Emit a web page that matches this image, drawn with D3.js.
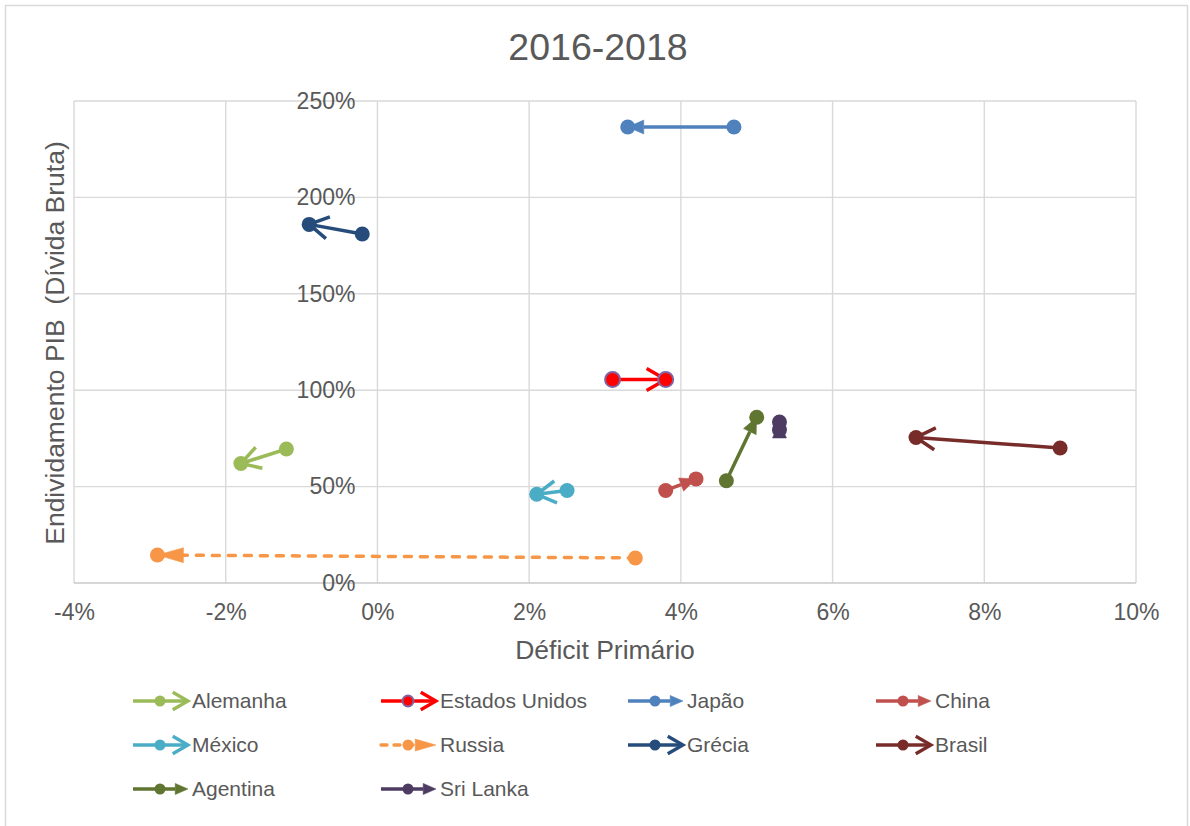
<!DOCTYPE html>
<html>
<head>
<meta charset="utf-8">
<script src="https://cdn.jsdelivr.net/npm/d3@7"></script>
<style>
  html, body { margin: 0; padding: 0; background: #ffffff; }
  svg { display: block; }
  text { font-family: "Liberation Sans", Arial, sans-serif; }
</style>
</head>
<body>
<svg id="chart" width="1190" height="826"></svg>
<script>
// Primary deficit (% of GDP) and gross debt (% of GDP), 2016 -> 2018
const countries = ["Alemanha", "Estados Unidos", "Japão", "China", "México", "Russia", "Grécia", "Brasil", "Agentina", "Sri Lanka"];
const deficit2016 = [-1.2, 3.1, 4.7, 3.8, 2.5, 3.4, -0.2, 9.0, 4.6, 5.3];
const debt2016    = [69.5, 105.5, 236.5, 48.0, 48.0, 13.0, 181.0, 70.0, 53.0, 79.5];
const deficit2018 = [-1.8, 3.8, 3.3, 4.2, 2.1, -2.9, -0.9, 7.1, 5.0, 5.3];
const debt2018    = [62.0, 105.5, 236.5, 54.0, 46.0, 14.5, 186.0, 75.5, 86.0, 83.5];

const xTicks = [-4, -2, 0, 2, 4, 6, 8, 10];
const yTicks = [0, 50, 100, 150, 200, 250];

// Series styling
const colors  = ["#9BBB59", "#FF0000", "#4F81BD", "#C0504D", "#4BACC6", "#F79646", "#254C7A", "#772C2A", "#5F7530", "#4D3B62"];
const heads   = ["open", "open", "tri", "tri", "open", "wide", "open", "open", "tri", "tri"];
const dashed  = [false, false, false, false, false, true, false, false, false, false];
const markerStroke = [null, "#8064A2", null, null, null, null, null, null, null, null];

const svg = d3.select("#chart");
const fontColor = "#595959";

// Outer chart frame
svg.append("rect")
  .attr("x", 5.5).attr("y", 5.5)
  .attr("width", 1182).attr("height", 840)
  .attr("fill", "none").attr("stroke", "#D9D9D9").attr("stroke-width", 1.5);

const plot = { left: 74, right: 1136, top: 101, bottom: 583 };
const x = d3.scaleLinear().domain([-4, 10]).range([plot.left, plot.right]);
const y = d3.scaleLinear().domain([0, 250]).range([plot.bottom, plot.top]);

// Gridlines
const grid = svg.append("g");
grid.selectAll("line.v").data(xTicks).join("line")
  .attr("x1", d => x(d)).attr("x2", d => x(d))
  .attr("y1", plot.top).attr("y2", plot.bottom)
  .attr("stroke", "#D9D9D9").attr("stroke-width", 1.4);
grid.selectAll("line.h").data(yTicks).join("line")
  .attr("x1", plot.left).attr("x2", plot.right)
  .attr("y1", d => y(d)).attr("y2", d => y(d))
  .attr("stroke", d => d === 0 ? "#C8C8C8" : "#D9D9D9").attr("stroke-width", 1.4);

// Axes via d3 axis generators, styled without domain lines
const xAxis = svg.append("g")
  .attr("transform", `translate(0,${plot.bottom})`)
  .call(d3.axisBottom(x).tickValues(xTicks).tickSize(0).tickPadding(20).tickFormat(d => d + "%"));
const yAxis = svg.append("g")
  .attr("transform", `translate(${x(0)},0)`)
  .call(d3.axisLeft(y).tickValues(yTicks).tickSize(0).tickPadding(22).tickFormat(d => d + "%"));
[xAxis, yAxis].forEach(g => {
  g.select(".domain").remove();
  g.selectAll("text")
    .attr("fill", fontColor)
    .style("font-family", "'Liberation Sans', Arial, sans-serif")
    .style("font-size", "23px");
});
xAxis.selectAll("text").attr("dy", "0.32em").attr("y", 30);

// Titles
svg.append("text")
  .attr("x", 598).attr("y", 47).attr("dy", "0.35em")
  .attr("text-anchor", "middle").attr("fill", fontColor)
  .style("font-size", "37.5px")
  .text("2016-2018");
svg.append("text")
  .attr("x", 605).attr("y", 650).attr("dy", "0.35em")
  .attr("text-anchor", "middle").attr("fill", fontColor)
  .style("font-size", "26.5px")
  .text("Déficit Primário");
svg.append("text")
  .attr("transform", "translate(55,343) rotate(-90)")
  .attr("dy", "0.35em")
  .attr("text-anchor", "middle").attr("fill", fontColor)
  .style("font-size", "26.5px")
  .style("white-space", "pre")
  .text("Endividamento PIB  (Dívida Bruta)");

// Arrow geometry helpers
function headShape(kind, tip, from, scale) {
  const dx = tip[0] - from[0], dy = tip[1] - from[1];
  const len = Math.hypot(dx, dy) || 1;
  const ux = dx / len, uy = dy / len;
  const nx = -uy, ny = ux;
  if (kind === "open") {
    const L = 22 * scale, a = 30 * Math.PI / 180;
    const bx = -ux * Math.cos(a), by = -uy * Math.cos(a);
    const s = Math.sin(a);
    return {
      kind,
      path: `M${tip[0] + L * (bx + nx * s)},${tip[1] + L * (by + ny * s)}L${tip[0]},${tip[1]}L${tip[0] + L * (bx - nx * s)},${tip[1] + L * (by - ny * s)}`,
      lineEnd: tip
    };
  }
  const L = (kind === "wide" ? 26 : 16) * scale;
  const hw = (kind === "wide" ? 7.5 : 7) * scale;
  const base = [tip[0] - ux * L, tip[1] - uy * L];
  return {
    kind,
    path: `M${tip[0]},${tip[1]}L${base[0] + nx * hw},${base[1] + ny * hw}L${base[0] - nx * hw},${base[1] - ny * hw}Z`,
    lineEnd: len > L ? base : tip
  };
}

function drawSeries(g, i, p0, p1, scale, lw) {
  const col = colors[i];
  const h = headShape(heads[i], p1, p0, scale);
  g.append("line")
    .attr("x1", p0[0]).attr("y1", p0[1])
    .attr("x2", h.lineEnd[0]).attr("y2", h.lineEnd[1])
    .attr("stroke", col).attr("stroke-width", lw)
    .attr("stroke-linecap", dashed[i] ? "round" : "butt")
    .attr("stroke-dasharray", dashed[i] ? (scale < 1 ? "6,7" : "7,9") : null);
  g.append("path")
    .attr("d", h.path)
    .attr("fill", h.kind === "open" ? "none" : col)
    .attr("stroke", col)
    .attr("stroke-width", h.kind === "open" ? lw : 0.5)
    .attr("stroke-linejoin", "miter");
  return col;
}

// Series: line + arrowhead + markers
const series = svg.append("g");
countries.forEach((c, i) => {
  const p0 = [x(deficit2016[i]), y(debt2016[i])];
  const p1 = [x(deficit2018[i]), y(debt2018[i])];
  const g = series.append("g");
  const col = drawSeries(g, i, p0, p1, 1, 3.5);
  g.selectAll("circle").data([p0, p1]).join("circle")
    .attr("cx", d => d[0]).attr("cy", d => d[1]).attr("r", 7.5)
    .attr("fill", col)
    .attr("stroke", markerStroke[i] || col)
    .attr("stroke-width", markerStroke[i] ? 2 : 0);
});

// Legend
const legendCols = [133, 381, 628, 876];
const legendRows = [701, 745, 789];
const legend = svg.append("g");
countries.forEach((c, i) => {
  const lx = legendCols[i % 4], ly = legendRows[Math.floor(i / 4)];
  const g = legend.append("g");
  const col = drawSeries(g, i, [lx, ly], [lx + 55, ly], 0.8, 3.3);
  g.append("circle")
    .attr("cx", lx + 27).attr("cy", ly).attr("r", 5.5)
    .attr("fill", col)
    .attr("stroke", markerStroke[i] || col)
    .attr("stroke-width", markerStroke[i] ? 2 : 0);
  g.append("text")
    .attr("x", lx + 59).attr("y", ly).attr("dy", "0.35em")
    .attr("fill", fontColor)
    .style("font-size", "21px")
    .text(c);
});
</script>
</body>
</html>
